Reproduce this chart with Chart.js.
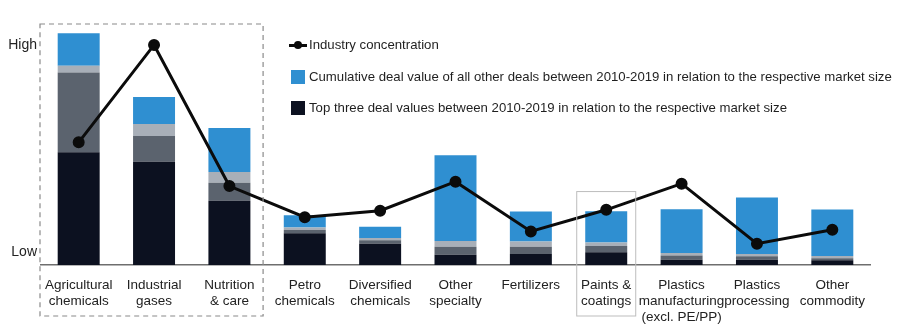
<!DOCTYPE html>
<html>
<head>
<meta charset="utf-8">
<script src="https://cdn.jsdelivr.net/npm/chart.js@4.4.1/dist/chart.umd.min.js"></script>
<style>
  html, body { margin: 0; padding: 0; background: #fff; }
  #wrap { position: relative; width: 900px; height: 330px; }
  #legend { position: absolute; left: 289px; top: 36px; font: 13.2px 'Liberation Sans', Arial, sans-serif; color: #1f1f1f; }
  .item { position: absolute; left: 0; white-space: nowrap; height: 18px; line-height: 18px; }
  .item span.txt { position: absolute; left: 20px; top: 0; }
  .sw { position: absolute; left: 2px; top: 2px; width: 14px; height: 14px; }
  .ln { position: absolute; left: 0; top: 8px; width: 18px; height: 3px; background: #0b0b0b; }
  .dot { position: absolute; left: 5px; top: 5px; width: 8px; height: 8px; border-radius: 50%; background: #0b0b0b; }
</style>
</head>
<body>
<div id="wrap">
  <canvas id="chart" width="900" height="330"></canvas>
  <div id="legend"></div>
</div>
<script>
// categories (x axis)
const categories = [
  ['Agricultural', 'chemicals'],
  ['Industrial', 'gases'],
  ['Nutrition', '& care'],
  ['Petro', 'chemicals'],
  ['Diversified', 'chemicals'],
  ['Other', 'specialty'],
  ['Fertilizers'],
  ['Paints &', 'coatings'],
  ['Plastics', 'manufacturing', '(excl. PE/PP)'],
  ['Plastics', 'processing'],
  ['Other', 'commodity']
];

// relative index values, 0 = axis, 100 = top of plot
const topThree     = [47.0, 43.0, 26.8, 13.2, 8.9, 4.3, 4.6, 5.3, 2.2, 2.2, 2.0];
const topThreeMid  = [33.2, 10.8, 7.5, 1.4, 1.4, 3.3, 3.0, 2.6, 1.8, 1.4, 0.8];
const otherLight   = [2.8, 4.9, 4.5, 1.0, 1.0, 2.4, 2.2, 1.5, 1.0, 1.0, 1.0];
const otherDeals   = [13.6, 11.3, 18.3, 5.1, 4.6, 35.7, 12.5, 13.0, 18.2, 23.5, 19.3];
const concentration = [51.1, 91.7, 32.9, 19.9, 22.6, 34.7, 14.0, 23.0, 33.9, 8.9, 14.7];

const yTickValues = [5.4, 91.7];
const yTickLabels = ['Low', 'High'];

const legendItems = [
  {label: 'Industry concentration', kind: 'line'},
  {label: 'Cumulative deal value of all other deals between 2010-2019 in relation to the respective market size', color: '#2f8fd1'},
  {label: 'Top three deal values between 2010-2019 in relation to the respective market size', color: '#0c1120'}
];

const colors = {
  navy: '#0c1120',
  slate: '#5b636e',
  light: '#a8afb8',
  blue: '#2f8fd1',
  line: '#0b0b0b'
};

// legend (html)
const leg = document.getElementById('legend');
legendItems.forEach((it, i) => {
  const d = document.createElement('div');
  d.className = 'item';
  d.style.top = (i * 31.5) + 'px';
  if (it.kind === 'line') {
    d.innerHTML = '<div class="ln"></div><div class="dot"></div>';
  } else {
    d.innerHTML = '<div class="sw" style="background:' + it.color + '"></div>';
  }
  const t = document.createElement('span');
  t.className = 'txt';
  t.textContent = it.label;
  d.appendChild(t);
  leg.appendChild(d);
});

// dashed box round the first three, thin box round paints & coatings
const boxes = {
  id: 'boxes',
  afterDraw(chart) {
    const {ctx, chartArea, scales} = chart;
    const x = scales.x;
    ctx.save();
    ctx.strokeStyle = '#8a8a8a';
    ctx.lineWidth = 1.2;
    ctx.setLineDash([5, 4]);
    const r = (x.getPixelForValue(2) + x.getPixelForValue(3)) / 2 - 4;
    ctx.strokeRect(chartArea.left - 1, chartArea.top - 1, r - chartArea.left + 1, chart.height - 13 - chartArea.top);
    ctx.setLineDash([]);
    ctx.strokeStyle = '#bdbdbd';
    ctx.lineWidth = 1;
    const c = x.getPixelForValue(7);
    const top = scales.y.getPixelForValue(30.6);
    ctx.strokeRect(c - 29.5, top, 59, chart.height - 14 - top);
    ctx.restore();
  }
};

const font = {family: "'Liberation Sans', Arial, sans-serif", size: 13};

new Chart(document.getElementById('chart'), {
  type: 'bar',
  data: {
    labels: categories,
    datasets: [
      {type: 'line', label: 'Industry concentration', data: concentration, stack: 'line',
       borderColor: colors.line, backgroundColor: colors.line, borderWidth: 3,
       pointRadius: 4.5, pointHoverRadius: 4.5, tension: 0, order: 0},
      {label: 'Top three deal values', data: topThree, backgroundColor: colors.navy, stack: 'bars', order: 1},
      {label: 'Top three (other)', data: topThreeMid, backgroundColor: colors.slate, stack: 'bars', order: 1},
      {label: 'Other deals (light)', data: otherLight, backgroundColor: colors.light, stack: 'bars', order: 1},
      {label: 'Cumulative deal value of all other deals', data: otherDeals, backgroundColor: colors.blue, stack: 'bars', order: 1}
    ]
  },
  options: {
    responsive: false,
    animation: false,
    events: [],
    layout: {padding: {left: 0, right: 30, top: 25, bottom: 0}},
    datasets: {bar: {barPercentage: 1, categoryPercentage: 0.557}},
    plugins: {legend: {display: false}, tooltip: {enabled: false}},
    scales: {
      x: {
        stacked: true,
        grid: {display: false, drawTicks: false},
        border: {display: true, color: '#6e6e6e', width: 1.5},
        ticks: {font: {...font, size: 13.5, lineHeight: 1.2}, color: '#222', padding: 12, maxRotation: 0, autoSkip: false},
        afterFit(s) { s.height = 65; }
      },
      y: {
        stacked: true,
        min: 0,
        max: 100,
        grid: {display: false, drawTicks: false},
        border: {display: false},
        afterBuildTicks(s) { s.ticks = yTickValues.map(v => ({value: v})); },
        afterFit(s) { s.width = 41; },
        ticks: {
          font: {...font, size: 14},
          color: '#222',
          padding: 4,
          callback: (v) => yTickLabels[yTickValues.indexOf(v)]
        }
      }
    }
  },
  plugins: [boxes]
});
</script>
</body>
</html>
